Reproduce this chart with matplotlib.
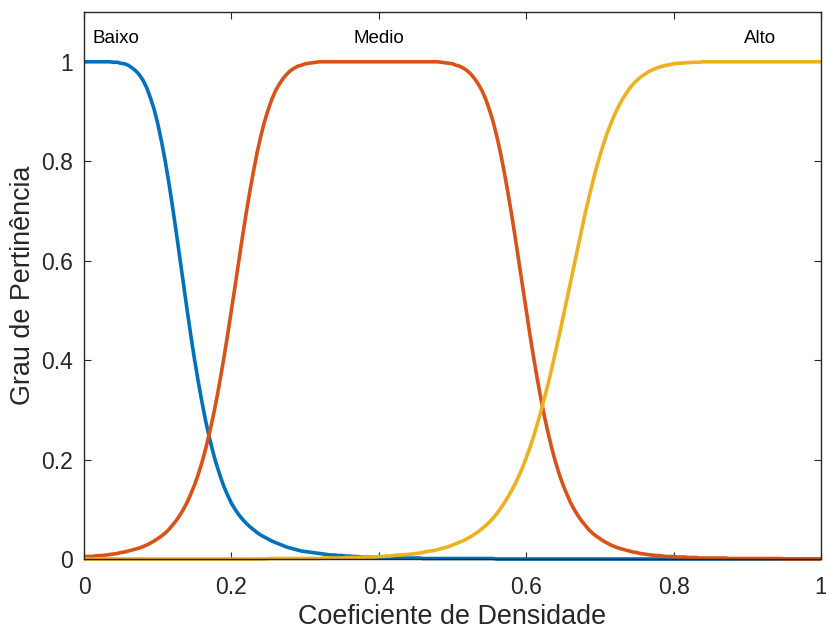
import numpy as np
import matplotlib
matplotlib.use('Agg')
import matplotlib.pyplot as plt

plt.rcParams['font.family'] = ['Liberation Sans', 'DejaVu Sans']

# pontos do universo de discurso (passo 0.005)
x = np.round(np.arange(0, 201) * 0.005, 3)

# grau de pertinência de cada conjunto fuzzy
baixo = [1.000, 1.000, 1.000, 1.000, 1.000, 1.000, 1.000, 1.000, 0.999, 0.999,
         0.997, 0.996, 0.993, 0.988, 0.982, 0.974, 0.963, 0.948, 0.928, 0.905,
         0.876, 0.841, 0.802, 0.758, 0.710, 0.659, 0.606, 0.553, 0.500, 0.449,
         0.401, 0.357, 0.316, 0.278, 0.245, 0.215, 0.189, 0.166, 0.145, 0.128,
         0.112, 0.100, 0.089, 0.080, 0.072, 0.065, 0.059, 0.053, 0.048, 0.044,
         0.040, 0.036, 0.033, 0.030, 0.027, 0.024, 0.022, 0.020, 0.018, 0.016,
         0.015, 0.014, 0.013, 0.012, 0.011, 0.010, 0.009, 0.008, 0.008, 0.007,
         0.007, 0.006, 0.006, 0.005, 0.005, 0.004, 0.004, 0.004, 0.004, 0.003,
         0.003, 0.003, 0.003, 0.002, 0.002, 0.002, 0.002, 0.002, 0.002, 0.002,
         0.002, 0.002, 0.001, 0.001, 0.001, 0.001, 0.001, 0.001, 0.001, 0.001,
         0.001, 0.001, 0.001, 0.001, 0.001, 0.001, 0.001, 0.001, 0.001, 0.001,
         0.001, 0.001, 0.000, 0.000, 0.000, 0.000, 0.000, 0.000, 0.000, 0.000,
         0.000, 0.000, 0.000, 0.000, 0.000, 0.000, 0.000, 0.000, 0.000, 0.000,
         0.000, 0.000, 0.000, 0.000, 0.000, 0.000, 0.000, 0.000, 0.000, 0.000,
         0.000, 0.000, 0.000, 0.000, 0.000, 0.000, 0.000, 0.000, 0.000, 0.000,
         0.000, 0.000, 0.000, 0.000, 0.000, 0.000, 0.000, 0.000, 0.000, 0.000,
         0.000, 0.000, 0.000, 0.000, 0.000, 0.000, 0.000, 0.000, 0.000, 0.000,
         0.000, 0.000, 0.000, 0.000, 0.000, 0.000, 0.000, 0.000, 0.000, 0.000,
         0.000, 0.000, 0.000, 0.000, 0.000, 0.000, 0.000, 0.000, 0.000, 0.000,
         0.000, 0.000, 0.000, 0.000, 0.000, 0.000, 0.000, 0.000, 0.000, 0.000,
         0.000]

medio = [0.005, 0.005, 0.005, 0.006, 0.007, 0.007, 0.008, 0.009, 0.010, 0.011,
         0.013, 0.014, 0.016, 0.018, 0.020, 0.022, 0.025, 0.028, 0.032, 0.036,
         0.041, 0.046, 0.052, 0.059, 0.068, 0.077, 0.088, 0.100, 0.114, 0.131,
         0.149, 0.170, 0.194, 0.221, 0.252, 0.285, 0.322, 0.363, 0.406, 0.452,
         0.500, 0.549, 0.599, 0.648, 0.695, 0.739, 0.780, 0.818, 0.851, 0.880,
         0.904, 0.925, 0.942, 0.955, 0.966, 0.975, 0.982, 0.987, 0.991, 0.993,
         0.996, 0.997, 0.998, 0.999, 1.000, 1.000, 1.000, 1.000, 1.000, 1.000,
         1.000, 1.000, 1.000, 1.000, 1.000, 1.000, 1.000, 1.000, 1.000, 1.000,
         1.000, 1.000, 1.000, 1.000, 1.000, 1.000, 1.000, 1.000, 1.000, 1.000,
         1.000, 1.000, 1.000, 1.000, 1.000, 1.000, 1.000, 0.999, 0.998, 0.997,
         0.996, 0.993, 0.991, 0.987, 0.982, 0.975, 0.966, 0.955, 0.942, 0.925,
         0.904, 0.880, 0.851, 0.818, 0.780, 0.739, 0.695, 0.648, 0.599, 0.549,
         0.500, 0.452, 0.406, 0.363, 0.322, 0.285, 0.252, 0.221, 0.194, 0.170,
         0.149, 0.131, 0.114, 0.100, 0.088, 0.077, 0.068, 0.059, 0.052, 0.046,
         0.041, 0.036, 0.032, 0.028, 0.025, 0.022, 0.020, 0.018, 0.016, 0.014,
         0.013, 0.011, 0.010, 0.009, 0.008, 0.007, 0.007, 0.006, 0.005, 0.005,
         0.005, 0.004, 0.004, 0.004, 0.003, 0.003, 0.003, 0.002, 0.002, 0.002,
         0.002, 0.002, 0.002, 0.002, 0.002, 0.001, 0.001, 0.001, 0.001, 0.001,
         0.001, 0.001, 0.001, 0.001, 0.001, 0.001, 0.001, 0.001, 0.001, 0.001,
         0.000, 0.000, 0.000, 0.000, 0.000, 0.000, 0.000, 0.000, 0.000, 0.000,
         0.000]

alto = [0.000, 0.000, 0.000, 0.000, 0.000, 0.000, 0.000, 0.000, 0.000, 0.000,
        0.000, 0.000, 0.000, 0.000, 0.000, 0.000, 0.000, 0.000, 0.000, 0.000,
        0.000, 0.000, 0.000, 0.000, 0.000, 0.000, 0.000, 0.000, 0.000, 0.000,
        0.000, 0.000, 0.000, 0.000, 0.000, 0.000, 0.000, 0.000, 0.000, 0.000,
        0.000, 0.000, 0.000, 0.000, 0.000, 0.000, 0.000, 0.000, 0.000, 0.000,
        0.001, 0.001, 0.001, 0.001, 0.001, 0.001, 0.001, 0.001, 0.001, 0.001,
        0.001, 0.001, 0.001, 0.001, 0.001, 0.002, 0.002, 0.002, 0.002, 0.002,
        0.002, 0.003, 0.003, 0.003, 0.003, 0.003, 0.004, 0.004, 0.004, 0.004,
        0.005, 0.005, 0.006, 0.006, 0.007, 0.008, 0.008, 0.009, 0.009, 0.010,
        0.011, 0.012, 0.013, 0.015, 0.016, 0.017, 0.019, 0.021, 0.023, 0.025,
        0.028, 0.031, 0.034, 0.037, 0.041, 0.045, 0.050, 0.055, 0.061, 0.067,
        0.074, 0.082, 0.091, 0.101, 0.112, 0.124, 0.137, 0.151, 0.167, 0.184,
        0.203, 0.224, 0.246, 0.271, 0.297, 0.325, 0.354, 0.385, 0.418, 0.451,
        0.486, 0.521, 0.556, 0.592, 0.627, 0.662, 0.695, 0.726, 0.756, 0.785,
        0.811, 0.835, 0.857, 0.876, 0.894, 0.909, 0.923, 0.935, 0.946, 0.955,
        0.962, 0.969, 0.974, 0.979, 0.983, 0.986, 0.989, 0.991, 0.993, 0.994,
        0.996, 0.997, 0.997, 0.998, 0.998, 0.999, 0.999, 0.999, 1.000, 1.000,
        1.000, 1.000, 1.000, 1.000, 1.000, 1.000, 1.000, 1.000, 1.000, 1.000,
        1.000, 1.000, 1.000, 1.000, 1.000, 1.000, 1.000, 1.000, 1.000, 1.000,
        1.000, 1.000, 1.000, 1.000, 1.000, 1.000, 1.000, 1.000, 1.000, 1.000,
        1.000]

nomes = ['Baixo', 'Medio', 'Alto']
cores = ['#0072BD', '#D95319', '#EDB120']

fig = plt.figure(figsize=(8.26, 6.34), dpi=100)
ax = fig.add_axes([0.1017, 0.1183, 0.8922, 0.8627])

for y, c in zip([baixo, medio, alto], cores):
    ax.plot(x, y, color=c, linewidth=2.6, clip_on=False,
            solid_capstyle='butt', solid_joinstyle='round')

# rótulos dos conjuntos acima dos picos
ax.text(0.011, 1.046, nomes[0], ha='left', va='center', fontsize=13.5)
ax.text(0.400, 1.046, nomes[1], ha='center', va='center', fontsize=13.5)
ax.text(0.917, 1.046, nomes[2], ha='center', va='center', fontsize=13.5)

ax.set_xlim(0, 1)
ax.set_ylim(0, 1.1)
ax.set_xticks([0, 0.2, 0.4, 0.6, 0.8, 1])
ax.set_xticklabels(['0', '0.2', '0.4', '0.6', '0.8', '1'])
ax.set_yticks([0, 0.2, 0.4, 0.6, 0.8, 1])
ax.set_yticklabels(['0', '0.2', '0.4', '0.6', '0.8', '1'])

eixo = '#262626'
for s in ax.spines.values():
    s.set_color(eixo)
    s.set_linewidth(1.0)
ax.tick_params(direction='in', length=5, width=0.8, colors=eixo,
               labelsize=16.5, top=True, right=True)
ax.tick_params(axis='x', pad=12)
ax.tick_params(axis='y', pad=8)

ax.set_xlabel('Coeficiente de Densidade', fontsize=19.4, color=eixo, labelpad=3.5)
ax.set_ylabel('Grau de Pertinência', fontsize=19.4, color=eixo, labelpad=3.5)

fig.savefig('out.png', dpi=100)
